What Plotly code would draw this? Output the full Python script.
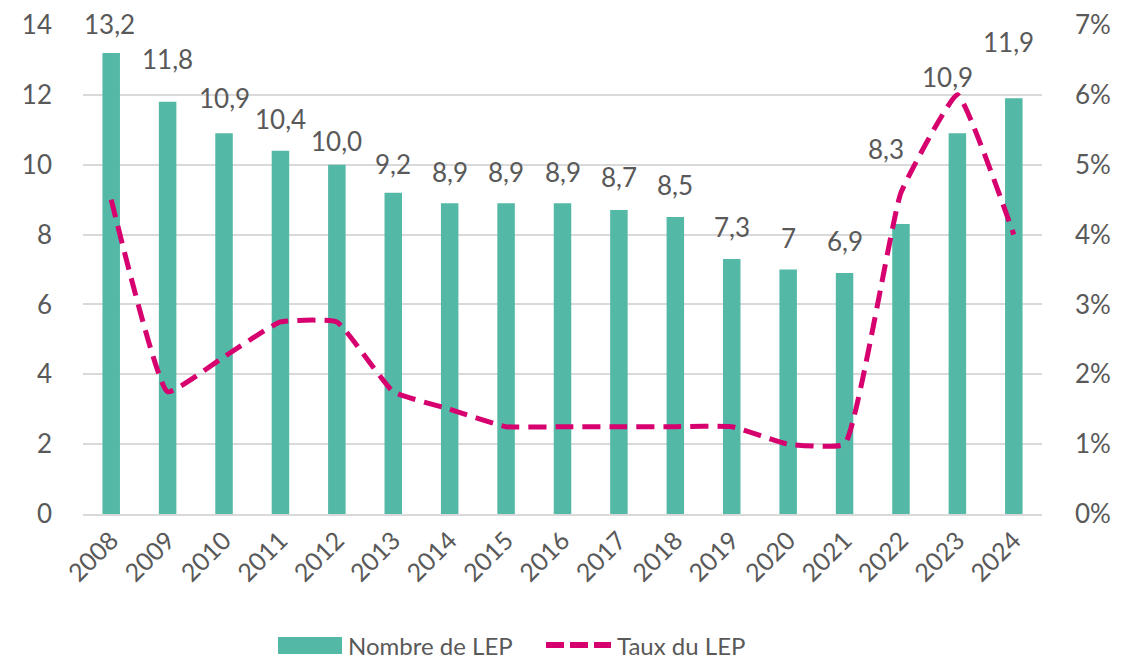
import plotly.graph_objects as go
from plotly.subplots import make_subplots

years = ["2008", "2009", "2010", "2011", "2012", "2013", "2014", "2015", "2016",
         "2017", "2018", "2019", "2020", "2021", "2022", "2023", "2024"]
nombre_lep = [13.2, 11.8, 10.9, 10.4, 10.0, 9.2, 8.9, 8.9, 8.9, 8.7, 8.5, 7.3, 7.0, 6.9, 8.3, 10.9, 11.9]
nombre_labels = ["13,2", "11,8", "10,9", "10,4", "10,0", "9,2", "8,9", "8,9", "8,9",
                 "8,7", "8,5", "7,3", "7", "6,9", "8,3", "10,9", "11,9"]
taux_lep = [0.045, 0.0175, 0.0225, 0.0275, 0.0275, 0.0175, 0.015, 0.0125, 0.0125,
            0.0125, 0.0125, 0.0125, 0.01, 0.01, 0.046, 0.06, 0.04]

# label placement offsets (pixels)
label_dy = [29, 43, 35, 32, 24, 29, 31, 31, 31, 33, 32, 32, 32, 32, 75, 56, 56]
label_dx = [-2, 0, 0, 0, 0, 0, 0, 0, 0, 0, 0, 0, 0, 0, -15, -10, -5]

BAR = "#53B8A5"
LINE = "#D6006F"
TXT = "#595959"
GRID = "#D9D9D9"
FONT = "Lato"
FS = 24      # legend text
FN = 26      # numbers
FX = 25      # x tick labels

# page has an 8px body margin: figure is drawn from (8, 8)
OFF = 8
W, H = 1130 - OFF, 662 - OFF
L, T = 83 - OFF, 25 - OFF
PW, PH = 959, 489
R, B = W - L - PW, H - T - PH


def px(xp):
    return (xp - OFF - L) / PW


def py(yp):
    return (T + PH - (yp - OFF)) / PH


fig = make_subplots(specs=[[{"secondary_y": True}]])
fig.add_trace(go.Bar(x=years, y=nombre_lep, name="Nombre de LEP", marker_color=BAR,
                     marker_line_width=0, showlegend=False), secondary_y=False)
fig.add_trace(go.Scatter(x=years, y=taux_lep, name="Taux du LEP", mode="lines",
                         line=dict(color=LINE, width=5, dash="18px,9px", shape="spline", smoothing=0.35),
                         showlegend=False), secondary_y=True)

for i, (v, t, dy, dx) in enumerate(zip(nombre_lep, nombre_labels, label_dy, label_dx)):
    fig.add_annotation(x=i, y=v, xref="x", yref="y", text=t, showarrow=False, yanchor="middle",
                       yshift=dy, xshift=dx, font=dict(family=FONT, size=FN, color=TXT))

# manual legend
fig.add_shape(type="rect", xref="paper", yref="paper",
              x0=px(278), x1=px(342), y0=py(637), y1=py(654),
              fillcolor=BAR, line_width=0)
fig.add_annotation(xref="paper", yref="paper", x=px(346), y=py(645),
                   text="Nombre de LEP", showarrow=False, xanchor="left", yanchor="middle",
                   font=dict(family=FONT, size=FS, color=TXT))
fig.add_shape(type="line", xref="paper", yref="paper",
              x0=px(546), x1=px(611), y0=py(645), y1=py(645),
              line=dict(color=LINE, width=6, dash="18px,6px"))
fig.add_annotation(xref="paper", yref="paper", x=px(615), y=py(645),
                   text="Taux du LEP", showarrow=False, xanchor="left", yanchor="middle",
                   font=dict(family=FONT, size=FS, color=TXT))

fig.update_layout(
    width=W, height=H,
    margin=dict(l=L, r=R, t=T, b=B, autoexpand=False),
    plot_bgcolor="white", paper_bgcolor="white",
    bargap=0.69,
    font=dict(family=FONT, size=FS, color=TXT),
    showlegend=False,
)
fig.update_xaxes(type="category", range=[-0.5, 16.5], tickangle=-45, automargin=False,
                 domain=[0, 1],
                 tickfont=dict(family=FONT, size=FX, color=TXT),
                 showline=True, linecolor=GRID, linewidth=2, ticks="", showgrid=False)
fig.update_yaxes(range=[0, 14], dtick=2, showgrid=True, gridcolor=GRID, gridwidth=1.5,
                 zeroline=False, ticks="", ticklabelstandoff=30, automargin=False,
                 tickfont=dict(family=FONT, size=FN, color=TXT), secondary_y=False)
fig.update_yaxes(range=[0, 0.07], dtick=0.01, tickformat=".0%", showgrid=False,
                 zeroline=False, ticks="", ticklabelstandoff=32, automargin=False,
                 tickfont=dict(family=FONT, size=FN, color=TXT), secondary_y=True)

fig.write_html("out.html")
